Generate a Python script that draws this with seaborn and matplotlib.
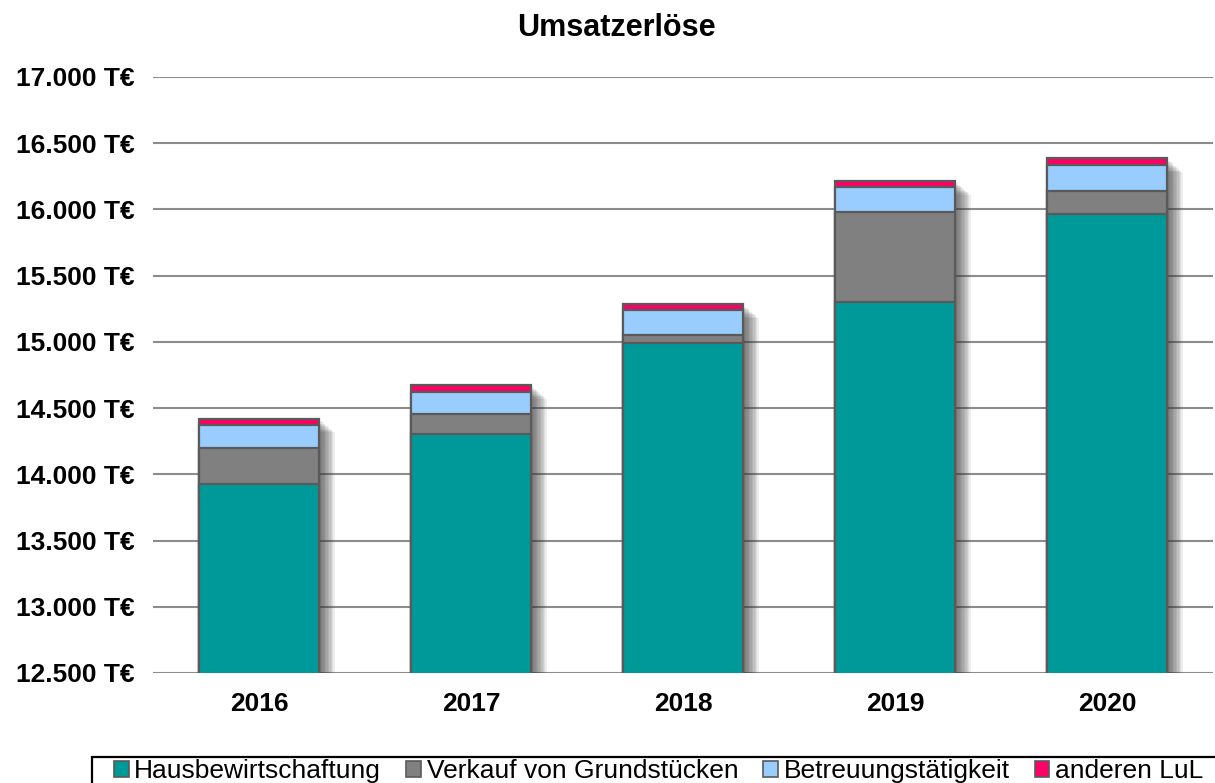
import matplotlib
matplotlib.use("Agg")
import matplotlib.pyplot as plt
import matplotlib.patheffects as pe
from matplotlib.patches import Patch, Rectangle
from matplotlib.ticker import FuncFormatter, MultipleLocator
import seaborn as sns
import pandas as pd
import numpy as np

# data (T€)
jahre = ["2016", "2017", "2018", "2019", "2020"]
hausbewirtschaftung = [13930, 14305, 14990, 15300, 15965]
verkauf = [270, 150, 60, 680, 175]
betreuung = [175, 165, 190, 190, 195]
anderen = [45, 55, 45, 45, 50]

serien = ["Hausbewirtschaftung", "Verkauf von Grundstücken", "Betreuungstätigkeit", "anderen LuL"]
farben = ["#009999", "#808080", "#99CCFF", "#FF0066"]

sns.set_theme(style="white")
plt.rcParams["font.family"] = ["Liberation Sans", "DejaVu Sans"]

werte = np.array([hausbewirtschaftung, verkauf, betreuung, anderen])
kumuliert = werte.cumsum(axis=0)

W, H = 1215, 783
fig = plt.figure(figsize=(W / 100, H / 100), dpi=100)
ax = fig.add_axes([153 / W, 1 - 673 / H, 1060 / W, 596 / H])

# stacked bars: draw cumulative totals from top to bottom
for i in range(3, -1, -1):
    df = pd.DataFrame({"jahr": jahre, "wert": kumuliert[i]})
    sns.barplot(data=df, x="jahr", y="wert", color=farben[i], saturation=1,
                width=0.57, edgecolor="#5a5a5a", linewidth=1.6, ax=ax, zorder=3)

# soft shadow on outer bars
schatten = [pe.SimplePatchShadow(offset=(o, -o * 0.9), shadow_rgbFace="#333333", alpha=0.085)
            for o in range(2, 12)]
for p in ax.patches[:5]:
    p.set_path_effects(schatten + [pe.Normal()])

ax.set_ylim(12500, 17000)
ax.set_xlim(-0.5, 4.5)
ax.yaxis.set_major_locator(MultipleLocator(500))
ax.yaxis.set_major_formatter(FuncFormatter(lambda v, _: f"{v:,.0f}".replace(",", ".") + " T€"))
ax.grid(axis="y", color="#8c8c8c", linewidth=1.5, zorder=0)
ax.set_axisbelow(True)
for s in ax.spines.values():
    s.set_visible(False)
ax.set_xlabel("")
ax.set_ylabel("")
ax.tick_params(axis="y", length=0, pad=13)
ax.tick_params(axis="x", length=0, pad=14)
for lab in ax.get_yticklabels() + ax.get_xticklabels():
    lab.set_fontweight("bold")
    lab.set_fontsize(19)
    lab.set_color("black")

fig.text(616 / W, 1 - 28 / H, "Umsatzerlöse", ha="center", va="center",
         fontsize=22, fontweight="bold", color="black")

# legend (frame drawn separately, it runs off the bottom/right edge)
handles = [Patch(facecolor=c, edgecolor="#5a5a5a", linewidth=1.2) for c in farben]
leg = fig.legend(handles, serien, loc="center left", bbox_to_anchor=(114 / W, 1 - 771 / H),
                 ncol=4, fontsize=19, frameon=False,
                 handlelength=0.55, handleheight=0.55, handletextpad=0.22, columnspacing=0.95,
                 borderpad=0, borderaxespad=0)
for t in leg.get_texts():
    t.set_color("black")
fig.add_artist(Rectangle((92 / W, -0.05), 1.0, 0.05 + (H - 757) / H, transform=fig.transFigure,
                         fill=False, edgecolor="black", linewidth=1.6))

fig.savefig("out.png", dpi=100)
